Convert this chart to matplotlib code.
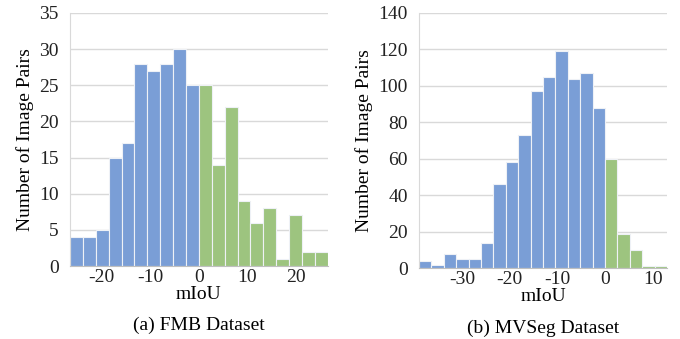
import numpy as np
import matplotlib
matplotlib.use("Agg")
import matplotlib.pyplot as plt

plt.rcParams['font.family'] = ['Liberation Serif', 'DejaVu Serif']
plt.rcParams['axes.unicode_minus'] = False

# (a) FMB: histogram of mIoU differences
fmb_start = -26.5
fmb_width = 2.65
fmb_neg = [4, 4, 5, 15, 17, 28, 27, 28, 30, 25]
fmb_pos = [25, 14, 22, 9, 6, 8, 1, 7, 2, 2]

# (b) MVSeg
mvs_start = -39.0
mvs_width = 2.6
mvs_neg = [4, 2, 8, 5, 5, 14, 46, 58, 73, 97, 105, 119, 104, 107, 88]
mvs_pos = [60, 19, 10, 1, 1]

BLUE = '#7a9ed6'
GREEN = '#9dc47f'
GRID = '#d9d9d9'


def draw(ax, start, width, neg, pos, ymax, ystep, xticks, caption):
    counts = neg + pos
    lefts = start + width * np.arange(len(counts))
    colors = [BLUE] * len(neg) + [GREEN] * len(pos)
    ax.bar(lefts, counts, width=width, align='edge', color=colors,
           edgecolor='#eef1f6', linewidth=0.8, zorder=2)
    ax.set_xlim(start, start + width * len(counts))
    ax.set_ylim(0, ymax)
    ax.set_yticks(np.arange(0, ymax + 1, ystep))
    ax.set_xticks(xticks)
    ax.yaxis.grid(True, color=GRID, linewidth=1.0, zorder=0)
    ax.set_axisbelow(True)
    for s in ['top', 'right']:
        ax.spines[s].set_visible(False)
    ax.spines['left'].set_color(GRID)
    ax.spines['bottom'].set_color('#bfbfbf')
    ax.tick_params(length=0, labelsize=14, colors='#222222')
    ax.tick_params(axis='x', pad=2)
    ax.tick_params(axis='y', pad=8)
    ax.set_xlabel('mIoU', fontsize=14, labelpad=0)
    ax.set_ylabel('Number of Image Pairs', fontsize=14, labelpad=4)
    ax.text(0.5, -0.235, caption, transform=ax.transAxes, ha='center',
            va='center', fontsize=14)


fig = plt.figure(figsize=(6.8, 3.39), dpi=100)
ax1 = fig.add_axes([0.103, 0.215, 0.379, 0.747])
ax2 = fig.add_axes([0.616, 0.209, 0.365, 0.753])

draw(ax1, fmb_start, fmb_width, fmb_neg, fmb_pos, 35, 5,
     [-20, -10, 0, 10, 20], '(a) FMB Dataset')
draw(ax2, mvs_start, mvs_width, mvs_neg, mvs_pos, 140, 20,
     [-30, -20, -10, 0, 10], '(b) MVSeg Dataset')

fig.savefig('out.png', dpi=100)
